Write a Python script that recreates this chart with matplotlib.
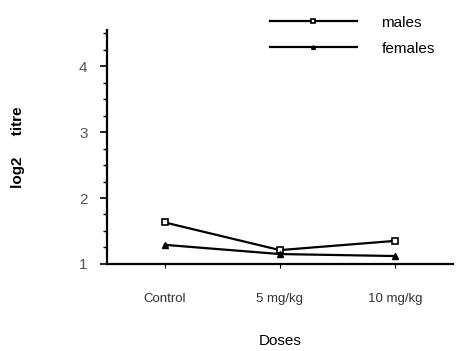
import matplotlib.pyplot as plt
from matplotlib.ticker import MultipleLocator

# Data
doses = ['Control', '5 mg/kg', '10 mg/kg']
males = [1.63, 1.21, 1.35]
females = [1.29, 1.15, 1.12]

plt.rcParams['font.family'] = ['Liberation Sans', 'DejaVu Sans']

fig = plt.figure(figsize=(4.63, 3.51), dpi=100)
ax = fig.add_axes([0.231, 0.248, 0.747, 0.667])

x = range(len(doses))
l1, = ax.plot(x, males, color='black', lw=1.6, marker='s', ms=5,
              mfc='white', mec='black', mew=1.2, label='males')
l2, = ax.plot(x, females, color='black', lw=1.6, marker='^', ms=4.5,
              mfc='black', mec='black', label='females')

ax.set_xlim(-0.5, 2.5)
ax.set_ylim(1, 4.55)
ax.set_xticks(list(x))
ax.set_xticklabels(doses, fontsize=9.5, color='#333333')
ax.set_yticks([1, 2, 3, 4])
ax.yaxis.set_minor_locator(MultipleLocator(0.25))
ax.tick_params(axis='y', labelsize=11, color='black', labelcolor='#555555',
               length=5, width=1.2, pad=9)
ax.tick_params(axis='y', which='minor', length=3, width=1)
ax.tick_params(axis='x', length=3, width=0.8, pad=18)

for s in ['top', 'right']:
    ax.spines[s].set_visible(False)
ax.spines['left'].set_linewidth(1.6)
ax.spines['bottom'].set_linewidth(1.6)
ax.spines['left'].set_bounds(1, 4.55)

ax.set_ylabel('log2     titre', fontsize=11, fontweight='bold', labelpad=39)
ax.set_xlabel('Doses', fontsize=11, labelpad=21)

fig.legend(handles=[l1, l2], loc='upper left', bbox_to_anchor=(0.553, 0.995),
           frameon=False, fontsize=11, handlelength=5.7, handletextpad=1.6,
           labelspacing=0.8, markerscale=0.6)

fig.savefig('out.png', dpi=100)
